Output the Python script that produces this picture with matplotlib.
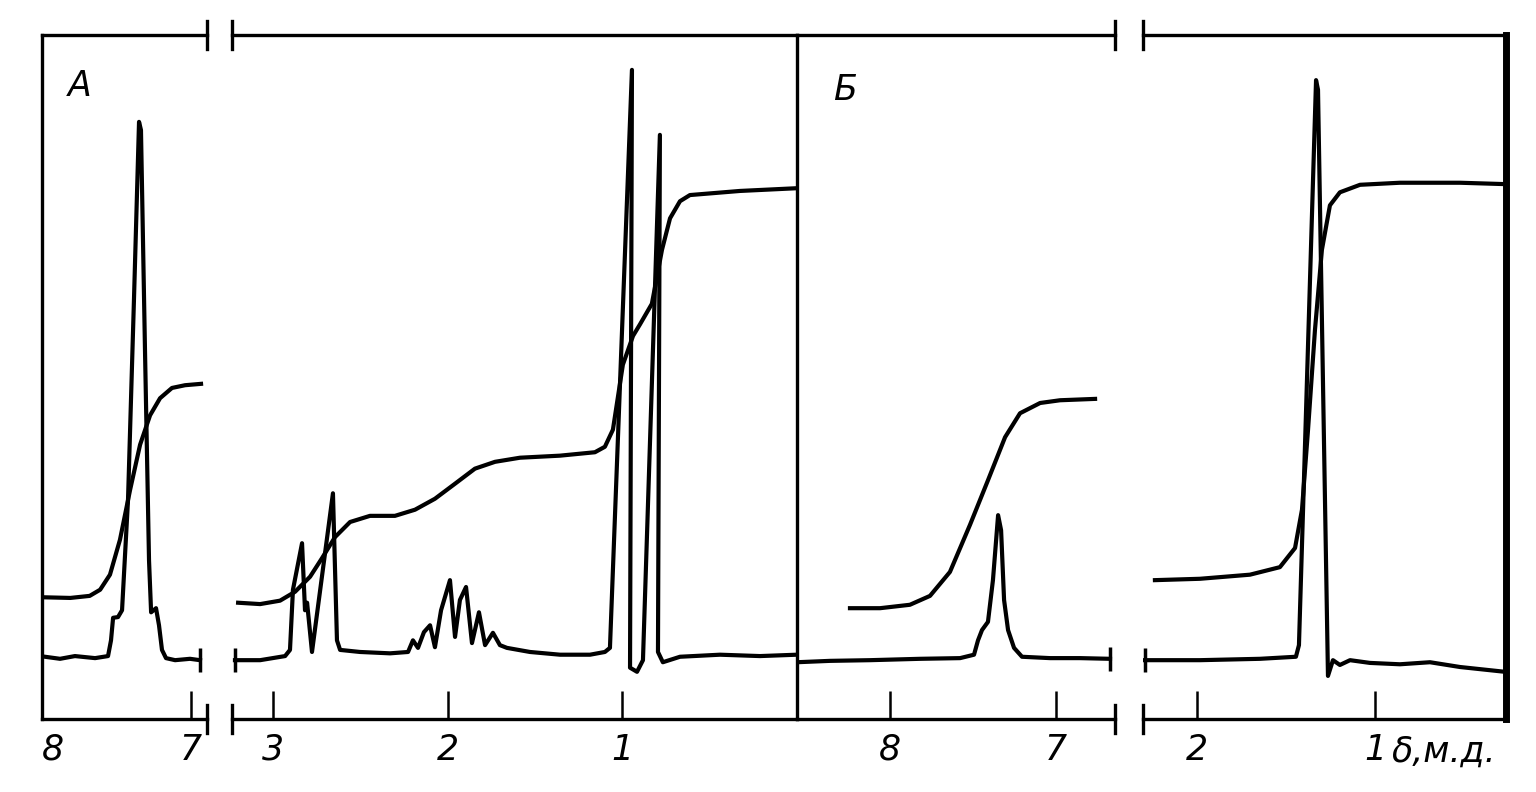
import matplotlib
matplotlib.use('Agg')
import numpy as np
from matplotlib import pyplot as plt

# Spectrum A, aromatic part (ppm, intensity in % of frame height)
a_arom_ppm = [7.98, 7.879, 7.779, 7.644, 7.557, 7.537, 7.523, 7.49, 7.463, 7.423,
              7.383, 7.349, 7.336, 7.309, 7.282, 7.268, 7.235, 7.215, 7.195, 7.168,
              7.107, 7.007, 6.94]
a_arom_int = [9.1, 8.8, 9.2, 8.9, 9.2, 11.5, 14.8, 14.9, 15.9, 32.0,
              61.3, 87.3, 86.1, 53.9, 23.2, 15.6, 16.2, 13.7, 10.1, 8.9,
              8.6, 8.8, 8.6]
a_arom_integ_ppm = [8.0, 7.81, 7.68, 7.61, 7.544, 7.477, 7.409, 7.342, 7.275, 7.208,
                    7.128, 7.04, 6.933]
a_arom_integ = [17.8, 17.7, 18.0, 18.9, 21.1, 26.2, 33.5, 40.1, 44.4, 46.9,
                48.4, 48.8, 49.0]

# Spectrum A, aliphatic part
a_alk_ppm = [3.218, 3.074, 2.931, 2.903, 2.886, 2.834, 2.817, 2.805, 2.777, 2.657,
             2.634, 2.616, 2.502, 2.33, 2.227, 2.199, 2.17, 2.136, 2.101, 2.073,
             2.038, 1.987, 1.958, 1.93, 1.895, 1.861, 1.821, 1.786, 1.741, 1.701,
             1.661, 1.529, 1.357, 1.185, 1.1, 1.071, 0.945, 0.956, 0.916, 0.882,
             0.785, 0.796, 0.768, 0.67, 0.441, 0.212, 0.001]
a_alk_int = [8.6, 8.6, 9.2, 10.1, 18.9, 25.7, 15.9, 17.0, 9.8, 33.0,
             11.5, 10.1, 9.8, 9.6, 9.8, 11.5, 10.4, 12.7, 13.7, 10.5,
             15.9, 20.3, 12.0, 17.4, 19.3, 11.1, 15.6, 10.8, 12.6, 10.8,
             10.4, 9.8, 9.4, 9.4, 9.8, 10.4, 94.9, 7.5, 6.9, 8.6,
             85.4, 9.8, 8.3, 9.1, 9.4, 9.2, 9.4]
a_alk_integ_ppm = [3.2, 3.074, 2.96, 2.874, 2.788, 2.72, 2.645, 2.559, 2.445, 2.302,
                   2.187, 2.073, 1.958, 1.844, 1.729, 1.586, 1.357, 1.157, 1.1, 1.054,
                   0.997, 0.939, 0.899, 0.831, 0.773, 0.727, 0.67, 0.613, 0.327, 0.001]
a_alk_integ = [17.0, 16.8, 17.3, 18.6, 20.8, 23.5, 26.6, 28.8, 29.7, 29.7,
               30.6, 32.2, 34.4, 36.6, 37.6, 38.2, 38.5, 39.0, 39.8, 42.3,
               51.8, 56.0, 57.7, 60.7, 68.6, 73.2, 75.7, 76.6, 77.2, 77.6]

# Spectrum Б, aromatic part
b_arom_ppm = [8.56, 8.361, 8.12, 7.819, 7.578, 7.494, 7.47, 7.446, 7.41, 7.38,
              7.349, 7.331, 7.313, 7.289, 7.253, 7.205, 7.036, 6.855, 6.675]
b_arom_int = [8.3, 8.5, 8.6, 8.8, 8.9, 9.4, 11.5, 13.0, 14.2, 20.3,
              29.8, 27.6, 17.4, 13.0, 10.4, 9.1, 8.9, 8.9, 8.8]
b_arom_integ_ppm = [8.241, 8.06, 7.88, 7.759, 7.639, 7.518, 7.41, 7.307, 7.217, 7.096,
                    6.976, 6.765]
b_arom_integ = [16.2, 16.2, 16.7, 18.0, 21.5, 28.4, 34.9, 41.2, 44.7, 46.2,
                46.6, 46.8]

# Spectrum Б, aliphatic part
b_alk_ppm = [2.292, 1.983, 1.646, 1.444, 1.427, 1.331, 1.32, 1.264, 1.236, 1.197,
             1.14, 1.028, 0.86, 0.691, 0.522, 0.27]
b_alk_int = [8.6, 8.6, 8.8, 9.1, 10.8, 93.4, 92.0, 6.3, 8.6, 7.9,
             8.6, 8.2, 8.0, 8.3, 7.6, 6.9]
b_alk_integ_ppm = [2.236, 1.983, 1.702, 1.534, 1.449, 1.41, 1.376, 1.337, 1.298, 1.253,
                   1.197, 1.084, 0.86, 0.522, 0.27]
b_alk_integ = [20.3, 20.5, 21.1, 22.2, 25.0, 30.6, 42.3, 56.9, 68.6, 75.1,
               77.0, 78.1, 78.4, 78.4, 78.2]

W, H = 1536, 792
TOP, BOT = 35, 719
LW = 3.0
FONT = dict(fontsize=25, fontstyle='italic', family='DejaVu Sans')

fig = plt.figure(figsize=(W / 100, H / 100), dpi=100)


def make_axes(x0, x1, xlim, ticks, labels, spines):
    ax = fig.add_axes([x0 / W, (H - BOT) / H, (x1 - x0) / W, (BOT - TOP) / H])
    ax.patch.set_visible(False)
    ax.set_xlim(*xlim)
    ax.set_ylim(0, 100)
    ax.set_yticks([])
    ax.set_xticks(ticks)
    ax.set_xticklabels(labels, **FONT)
    ax.tick_params(axis='x', direction='in', length=20, width=1.8, pad=10)
    for side in ['left', 'right', 'top', 'bottom']:
        ax.spines[side].set_visible(side in spines)
        ax.spines[side].set_linewidth(2.4)
    return ax


def break_mark(ax, xa):
    for ya in (0, 1):
        ax.plot([xa, xa], [ya - 0.02, ya + 0.02], color='k', lw=2.4,
                transform=ax.transAxes, clip_on=False)


def draw(ax, ppm, inten, ippm, integ, end_mark):
    ax.plot(ppm, inten, color='k', lw=LW, solid_joinstyle='round')
    ax.plot(ippm, integ, color='k', lw=LW, solid_joinstyle='round')
    ax.plot(ppm[end_mark], inten[end_mark], marker='|', ms=17, mew=2.5, color='k')


ax1 = make_axes(42, 207, (8.0, 6.893), [8, 7], ['8', '7'], ['left', 'top', 'bottom'])
ax2 = make_axes(232, 797, (3.235, 0.0), [3, 2, 1], ['3', '2', '1'], ['right', 'top', 'bottom'])
ax3 = make_axes(797, 1115, (8.56, 6.645), [8, 7], ['8', '7'], ['top', 'bottom'])
ax4 = make_axes(1143, 1506, (2.303, 0.264), [2, 1], ['2', '1'], ['right', 'top', 'bottom'])
ax4.spines['right'].set_linewidth(5)
ax1.get_xticklabels()[0].set_horizontalalignment('left')

break_mark(ax1, 1)
break_mark(ax2, 0)
break_mark(ax3, 1)
break_mark(ax4, 0)

draw(ax1, a_arom_ppm, a_arom_int, a_arom_integ_ppm, a_arom_integ, -1)
draw(ax2, a_alk_ppm, a_alk_int, a_alk_integ_ppm, a_alk_integ, 0)
draw(ax3, b_arom_ppm, b_arom_int, b_arom_integ_ppm, b_arom_integ, -1)
draw(ax4, b_alk_ppm, b_alk_int, b_alk_integ_ppm, b_alk_integ, 0)

ax1.text(0.23, 0.925, 'А', transform=ax1.transAxes, ha='center', va='center', **FONT)
ax3.text(0.15, 0.92, 'Б', transform=ax3.transAxes, ha='center', va='center', **FONT)
fig.text(1392 / W, (H - 752) / H, 'δ,м.д.', ha='left', va='center', **FONT)

fig.savefig('out.png', dpi=100)
